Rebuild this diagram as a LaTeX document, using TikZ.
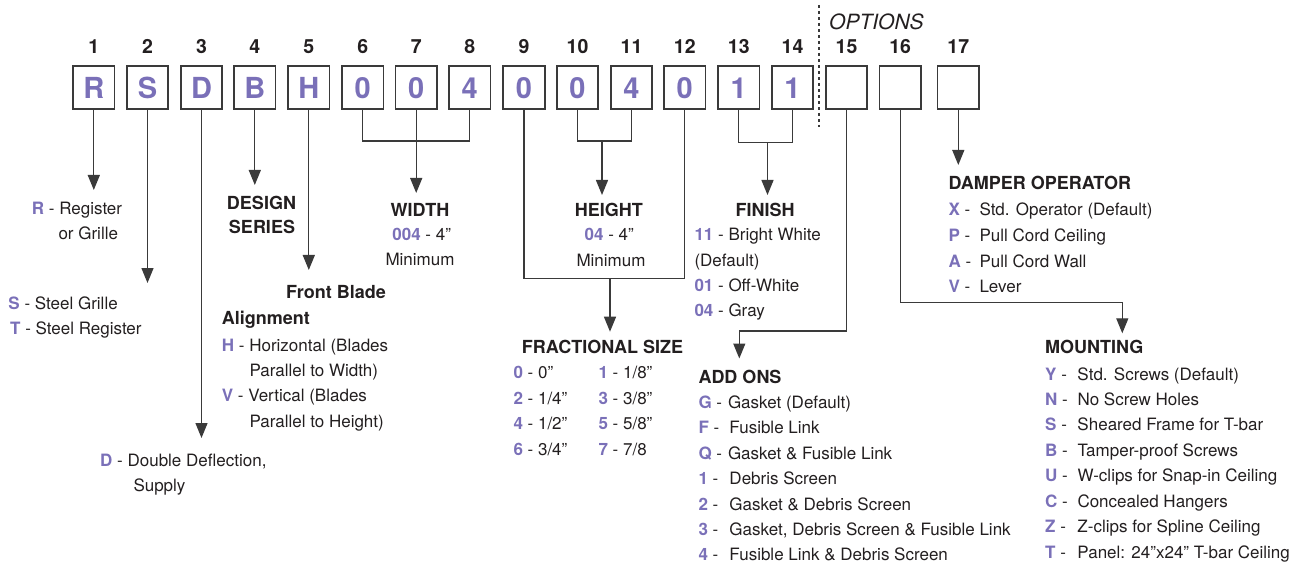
\documentclass[tikz,border=0pt]{standalone}
\usepackage{fontspec}
\setmainfont{TeX Gyre Heros}
\usetikzlibrary{arrows.meta}
\definecolor{pur}{HTML}{7A70B8}
\definecolor{tx}{HTML}{231F20}
\definecolor{ln}{HTML}{3A3A3A}
\newcommand\pcode[1]{\textcolor{pur}{\bfseries #1}}
\begin{document}
\begin{tikzpicture}[x=1pt,y=-1pt,
  txt/.style={anchor=base west, inner sep=0pt, text=tx, font=\fontsize{17}{20}\selectfont},
  ctxt/.style={anchor=base, inner sep=0pt, text=tx, font=\fontsize{17}{20}\selectfont},
  hdr/.style={anchor=base, inner sep=0pt, text=tx, font=\fontsize{18}{20}\selectfont\bfseries},
  lhdr/.style={hdr, anchor=base west},
  num/.style={anchor=base, inner sep=0pt, text=tx, font=\fontsize{19.5}{20}\selectfont\bfseries},
  digitbox/.style={draw=ln, line width=1.6pt, minimum width=41.5pt, minimum height=43pt, inner sep=0pt,
    text=pur, font=\fontsize{29}{29}\selectfont\bfseries},
  conn/.style={draw=ln, line width=1.3pt},
  arr/.style={conn, -{Triangle[length=15pt,width=12pt]}}]
\useasboundingbox (0,0) rectangle (1304,564);
% boxes
\foreach \i/\x/\c in {1/93.8/R, 2/147.5/S, 3/201.5/D, 4/254.8/B, 5/308.8/H, 6/362.7/0, 7/416.2/0, 8/469.8/4,
  9/524/0, 10/577.5/0, 11/631.5/4, 12/684.8/0, 13/738.8/1, 14/792.5/1, 15/846.5/{}, 16/900.2/{}, 17/958.3/{}}{
  \node[digitbox] (b\i) at (\x,87.8) {\c};
  \node[num] (n\i) at (\x,54) {\i};
}
% options
\node[anchor=base west, inner sep=0pt, text=tx, font=\fontsize{21}{22}\selectfont\itshape] (opt) at (829,30) {OPTIONS};
\coordinate (dtop) at (819,5);
\coordinate (dbot) at (819,127);
\draw[ln, line width=1.2pt, dash pattern=on 3.5pt off 2.5pt] (dtop) -- (dbot);
% coordinates
\coordinate (a1) at (93.8,190);
\coordinate (a2) at (147.5,283);
\coordinate (a3) at (201.5,438);
\coordinate (a4) at (254.8,185);
\coordinate (a5) at (308.8,270);
\coordinate (k68) at (416.2,141);
\coordinate (a7) at (416.2,193);
\coordinate (k1011) at (602,141);
\coordinate (a1011) at (602,195);
\coordinate (k912) at (610,278.3);
\coordinate (a912) at (610,331.7);
\coordinate (k1314) at (767.5,142.7);
\coordinate (a1314) at (767.5,195);
\coordinate (k15) at (739.3,331);
\coordinate (a15) at (739.3,358.5);
\coordinate (k16) at (1122.3,302.7);
\coordinate (a16) at (1122.3,333.3);
\coordinate (a17) at (958.3,165);
% connectors
\draw[arr] (b1.south) -- (a1);
\draw[arr] (b2.south) -- (a2);
\draw[arr] (b3.south) -- (a3);
\draw[arr] (b4.south) -- (a4);
\draw[arr] (b5.south) -- (a5);
\draw[conn] (b6.south) |- (k68) -| (b8.south);
\draw[arr] (b7.south) -- (a7);
\draw[conn] (b10.south) |- (k1011) -| (b11.south);
\draw[arr] (k1011) -- (a1011);
\draw[conn] (b9.south) |- (k912) -| (b12.south);
\draw[arr] (k912) -- (a912);
\draw[conn] (b13.south) |- (k1314) -| (b14.south);
\draw[arr] (k1314) -- (a1314);
\draw[arr] (b15.south) |- (k15) -- (a15);
\draw[arr] (b16.south) |- (k16) -- (a16);
\draw[arr] (b17.south) -- (a17);
% 1
\node[txt] (t1a) at (31.7,215) {\pcode{R} - Register};
\node[txt] (t1b) at (58.3,239.3) {or Grille};
% 2
\node[txt] (t2a) at (8.3,309.3) {\pcode{S} - Steel Grille};
\node[txt] (t2b) at (10,334.3) {\pcode{T} - Steel Register};
% 3
\node[txt] (t3a) at (100,466.7) {\pcode{D} - Double Deflection,};
\node[txt] (t3b) at (133.3,491.7) {Supply};
% 4
\node[hdr] (t4a) at (261.5,210) {DESIGN};
\node[hdr] (t4b) at (262,233.3) {SERIES};
% 5
\node[hdr] (t5a) at (336,298.3) {Front Blade};
\node[lhdr] (t5b) at (221.7,324) {Alignment};
\node[txt] (t5c) at (221.7,351.7) {\pcode{H} - Horizontal (Blades};
\node[txt] (t5d) at (249.3,376.7) {Parallel to Width)};
\node[txt] (t5e) at (221.7,401.7) {\pcode{V} - Vertical (Blades};
\node[txt] (t5f) at (249.3,427.3) {Parallel to Height)};
% width
\node[hdr] (tw1) at (420,216.5) {WIDTH};
\node[ctxt] (tw2) at (421.7,240.3) {\pcode{004} - 4”};
\node[ctxt] (tw3) at (420,265.5) {Minimum};
% height
\node[hdr] (th1) at (608.8,216.5) {HEIGHT};
\node[ctxt] (th2) at (609.3,240.7) {\pcode{04} - 4”};
\node[ctxt] (th3) at (611,266.3) {Minimum};
% finish
\node[hdr] (tf1) at (765,216.5) {FINISH};
\node[txt] (tf2) at (694.3,240.7) {\pcode{11} - Bright White};
\node[txt] (tf3) at (694.3,266) {(Default)};
\node[txt] (tf4) at (694.3,291.7) {\pcode{01} - Off-White};
\node[txt] (tf5) at (694.3,316.7) {\pcode{04} - Gray};
% fractional
\node[lhdr] (tr0) at (521.7,353.3) {FRACTIONAL SIZE};
\node[txt] (tr1) at (513.3,378.3) {\pcode{0} - 0”};
\node[txt] (tr2) at (513.3,404) {\pcode{2} - 1/4”};
\node[txt] (tr3) at (513.3,429.3) {\pcode{4} - 1/2”};
\node[txt] (tr4) at (513.3,455) {\pcode{6} - 3/4”};
\node[txt] (tr5) at (598.3,378.3) {\pcode{1} - 1/8”};
\node[txt] (tr6) at (598.3,404) {\pcode{3} - 3/8”};
\node[txt] (tr7) at (598.3,429.3) {\pcode{5} - 5/8”};
\node[txt] (tr8) at (598.3,455) {\pcode{7} - 7/8};
% add ons
\node[lhdr] (ta0) at (698.3,383.3) {ADD ONS};
\node[txt] (ta1) at (698.3,408.3) {\makebox[29.5pt][l]{\pcode{G} -}Gasket (Default)};
\node[txt] (ta2) at (698.3,433.8) {\makebox[31pt][l]{\pcode{F} -}Fusible Link};
\node[txt] (ta3) at (698.3,459.2) {\makebox[29.5pt][l]{\pcode{Q} -}Gasket \& Fusible Link};
\node[txt] (ta4) at (698.3,484.6) {\makebox[31pt][l]{\pcode{1} -}Debris Screen};
\node[txt] (ta5) at (698.3,510) {\makebox[31pt][l]{\pcode{2} -}Gasket \& Debris Screen};
\node[txt] (ta6) at (698.3,535.4) {\makebox[31pt][l]{\pcode{3} -}Gasket, Debris Screen \& Fusible Link};
\node[txt] (ta7) at (698.3,560.8) {\makebox[31pt][l]{\pcode{4} -}Fusible Link \& Debris Screen};
% damper operator
\node[lhdr] (td0) at (948.3,190) {DAMPER OPERATOR};
\node[txt] (td1) at (948.3,216) {\makebox[31pt][l]{\pcode{X} -}Std. Operator (Default)};
\node[txt] (td2) at (948.3,241.6) {\makebox[31pt][l]{\pcode{P} -}Pull Cord Ceiling};
\node[txt] (td3) at (948.3,267.1) {\makebox[31pt][l]{\pcode{A} -}Pull Cord Wall};
\node[txt] (td4) at (948.3,292.7) {\makebox[31pt][l]{\pcode{V} -}Lever};
% mounting
\node[lhdr] (tm0) at (1045,353.3) {MOUNTING};
\node[txt] (tm1) at (1045,380) {\makebox[32.3pt][l]{\pcode{Y} -}Std. Screws (Default)};
\node[txt] (tm2) at (1045,405.4) {\makebox[32.3pt][l]{\pcode{N} -}No Screw Holes};
\node[txt] (tm3) at (1045,430.9) {\makebox[32.3pt][l]{\pcode{S} -}Sheared Frame for T-bar};
\node[txt] (tm4) at (1045,456.3) {\makebox[32.3pt][l]{\pcode{B} -}Tamper-proof Screws};
\node[txt] (tm5) at (1045,481.7) {\makebox[32.3pt][l]{\pcode{U} -}W-clips for Snap-in Ceiling};
\node[txt] (tm6) at (1045,507.1) {\makebox[32.3pt][l]{\pcode{C} -}Concealed Hangers};
\node[txt] (tm7) at (1045,532.6) {\makebox[32.3pt][l]{\pcode{Z} -}Z-clips for Spline Ceiling};
\node[txt] (tm8) at (1045,558) {\makebox[32.3pt][l]{\pcode{T} -}Panel: 24”x24” T-bar Ceiling};
\end{tikzpicture}
\end{document}
